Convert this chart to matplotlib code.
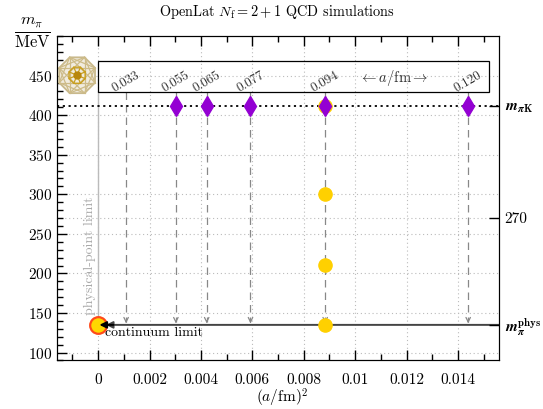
import numpy as np
import matplotlib
matplotlib.use("Agg")
import matplotlib.pyplot as plt
from matplotlib.ticker import MultipleLocator

plt.rcParams['font.family'] = ['cmr10', 'DejaVu Serif']
plt.rcParams['mathtext.fontset'] = 'cm'
plt.rcParams['axes.formatter.use_mathtext'] = True

# lattice spacings (fm) of the ensembles
spacings = [0.033, 0.055, 0.065, 0.077, 0.094, 0.120]
spacing_labels = ['0.033', '0.055', '0.065', '0.077', '0.094', '0.120']
a2 = [a ** 2 for a in spacings]

# symmetric point m_piK for the simulated spacings (all but the finest)
m_piK = 411.6
sym_x = a2[1:]
sym_y = [m_piK] * len(sym_x)

# chiral trajectory at a = 0.094 fm
chiral_x = [a2[4]] * 4
chiral_y = [411.6, 300, 211, 135]

m_pi_phys = 135.0
right_ticks = [m_pi_phys, 270, m_piK]
right_labels = [r'$\boldsymbol{m}_{\boldsymbol{\pi}}^{\mathbf{phys}}$', '270',
                r'$\boldsymbol{m}_{\boldsymbol{\pi}\mathbf{K}}$']

x_ticks = [0, 0.002, 0.004, 0.006, 0.008, 0.01, 0.012, 0.014]
x_ticklabels = ['0', '0.002', '0.004', '0.006', '0.008', '0.01', '0.012', '0.014']
y_ticks = [100, 150, 200, 250, 300, 350, 400, 450]

fig = plt.figure(figsize=(5.43, 4.09), dpi=100)
ax = fig.add_axes([0.105, 0.1186, 0.814, 0.7934])
ax.set_xlim(-0.0016, 0.0156)
ax.set_ylim(90, 500)

# grid
for xv in x_ticks:
    ax.axvline(xv, color='#bbbbbb', ls=(0, (1, 2.5)), lw=0.8, zorder=0)
for yv in y_ticks + [270]:
    ax.axhline(yv, color='#bbbbbb', ls=(0, (1, 2.5)), lw=0.8, zorder=0)

box_lo, box_hi = 429, 469

# dashed lines for each spacing with arrow heads at the physical line
for xv in a2:
    ax.plot([xv, xv], [box_lo, m_pi_phys + 4], color='#888888', ls=(0, (6, 4)), lw=0.9, zorder=1)
    ax.annotate('', xy=(xv, m_pi_phys + 2), xytext=(xv, m_pi_phys + 9),
                arrowprops=dict(arrowstyle='->', color='#888888', lw=0.9,
                                mutation_scale=8), zorder=1)

# physical-point limit
ax.plot([0, 0], [m_pi_phys, box_lo], color='#bbbbbb', lw=1.0, zorder=1)
ax.text(-0.0001, 222, 'physical-point limit', rotation=90, color='#aaaaaa',
        fontsize=10, ha='right', va='center')

# m_piK line
ax.axhline(m_piK, color='black', ls=(0, (1.2, 2)), lw=1.3, zorder=2)

# continuum limit arrow
ax.annotate('', xy=(0.0003, m_pi_phys), xytext=(0.0156, m_pi_phys),
            arrowprops=dict(arrowstyle='-|>', color='#444444', lw=1.4,
                            mutation_scale=10, shrinkA=0, shrinkB=0), zorder=3)
ax.annotate('', xy=(0.00005, m_pi_phys), xytext=(0.0006, m_pi_phys),
            arrowprops=dict(arrowstyle='-|>', color='black', lw=1.4,
                            mutation_scale=10, shrinkA=0, shrinkB=0), zorder=6)
ax.text(0.00028, 124.5, 'continuum limit', fontsize=10, ha='left', va='center')

# physical point
ax.plot([0], [m_pi_phys], 'o', ms=12, mfc='#ffd700', mec='#ff4a1a', mew=1.6, zorder=5)

# ensembles
ax.plot(chiral_x, chiral_y, 'o', ms=9.5, color='#ffd000', mec='#ffd000', zorder=4)
ax.plot(sym_x, sym_y, 'd', ms=10, color='#9400d3', zorder=5)

# box with spacing labels
ax.add_patch(plt.Rectangle((0, box_lo), 0.0152, box_hi - box_lo, fill=False,
                           ec='black', lw=0.9, zorder=3))
for xv, lab in zip(a2, spacing_labels):
    ax.text(xv, 442, lab, rotation=30, fontsize=9.5, color='#333333',
            ha='center', va='center')
ax.text(0.0115, 447, r'$\leftarrow a/\mathrm{fm} \rightarrow$', fontsize=10.5,
        color='#333333', ha='center', va='center')

# ticks
ax.set_xticks(x_ticks)
ax.set_xticklabels(x_ticklabels)
ax.set_yticks(y_ticks)
ax.xaxis.set_minor_locator(MultipleLocator(0.001))
ax.yaxis.set_minor_locator(MultipleLocator(10))
ax.tick_params(which='both', direction='in', top=True, right=True, labelsize=11)
ax.tick_params(which='major', length=7, width=1)
ax.tick_params(which='minor', length=4, width=1)
ax.tick_params(axis='x', pad=9)

ax2 = ax.twinx()
ax2.set_ylim(ax.get_ylim())
ax2.set_yticks(right_ticks)
ax2.set_yticklabels(right_labels)
ax2.tick_params(direction='in', length=7, width=1, labelsize=11, pad=4)

fig.text(0.52, 0.028, r'$(a/\mathrm{fm})^2$', ha='center', va='center', fontsize=11)
fig.text(0.51, 0.97, r'OpenLat $N_\mathrm{f} = 2 + 1$ QCD simulations', ha='center',
         va='center', fontsize=10.3)
fig.text(0.059, 0.922, r'$\frac{m_\pi}{\mathrm{MeV}}$', ha='center', va='center', fontsize=17)

# logo
lax = fig.add_axes([0.1045, 0.766, 0.075, 0.1])
lax.set_aspect('equal')
lax.axis('off')
ang = np.pi / 8 + np.arange(8) * np.pi / 4
px, py = np.cos(ang), np.sin(ang)
lax.fill(px, py, color='#f1ecdf', ec='#c9b98c', lw=1.3)
for i in range(8):
    for step in (2, 3):
        j = (i + step) % 8
        lax.plot([px[i], px[j]], [py[i], py[j]], color='#cdbb88', lw=0.9)
r = 0.45
lax.plot(r * np.append(px, px[0]), r * np.append(py, py[0]), color='#c99f1f', lw=1.0)
for i in range(8):
    lax.plot([0, r * px[i]], [0, r * py[i]], color='#c99f1f', lw=0.9)
lax.plot([0], [0], 'o', ms=5, color='#b8860b')
lax.set_xlim(-1.05, 1.05)
lax.set_ylim(-1.05, 1.05)

fig.savefig('out.png', dpi=100)
